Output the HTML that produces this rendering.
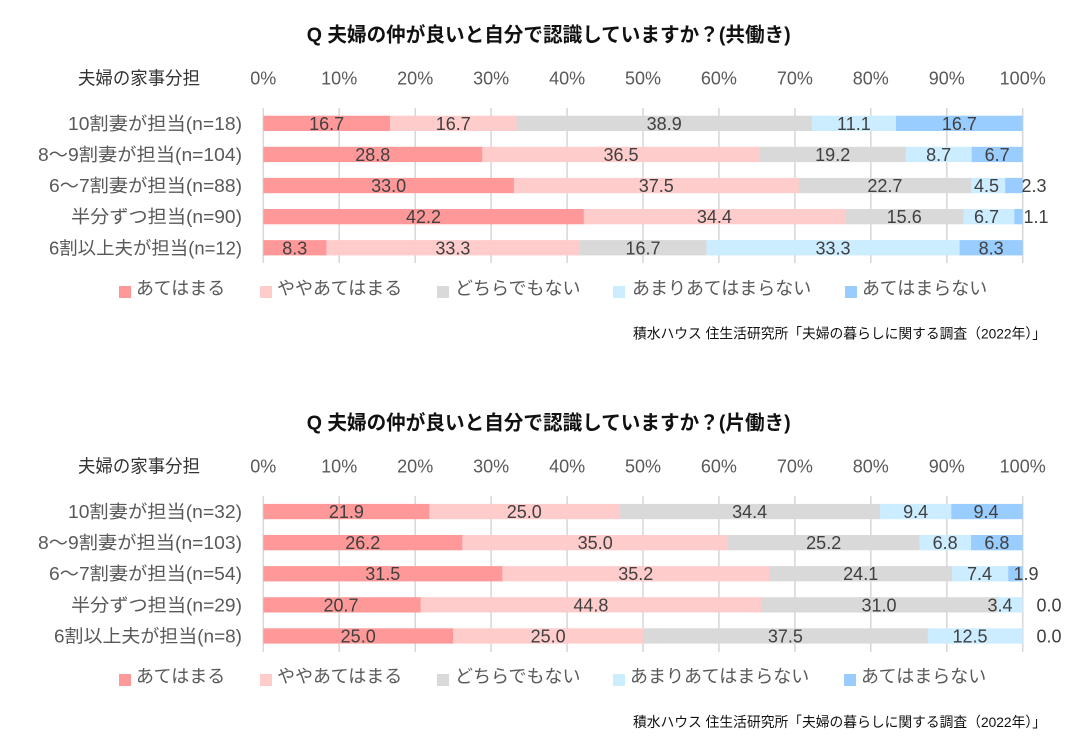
<!DOCTYPE html>
<html><head><meta charset="utf-8"><style>
html,body{margin:0;padding:0;background:#fff;}
svg{display:block;}
text{font-family:"Liberation Sans","Noto Sans CJK JP",sans-serif;}
.v{font-size:18px;fill:#404040;text-anchor:middle;}
.t{font-size:18px;fill:#595959;text-anchor:middle;}
.r{font-size:18px;fill:#595959;text-anchor:end;}
.l{font-size:18px;fill:#595959;}
.ttl{font-size:20px;font-weight:bold;fill:#111;}
.cat{font-size:18px;fill:#333;}
.src{font-size:14px;fill:#111;text-anchor:end;}
.c1{fill:#FF9999}.c2{fill:#FFCCCC}.c3{fill:#D9D9D9}.c4{fill:#CCECFF}.c5{fill:#99CCFF}
.g{stroke:#D9D9D9;stroke-width:1.6;}
</style></head><body>
<svg width="1076" height="746" viewBox="0 0 1076 746" xmlns="http://www.w3.org/2000/svg">

<!-- ===== TOP CHART ===== -->
<text class="ttl" x="306.7" y="41.5" textLength="484" lengthAdjust="spacingAndGlyphs">Q 夫婦の仲が良いと自分で認識していますか？(共働き)</text>
<text class="cat" x="78" y="84.5" textLength="122" lengthAdjust="spacingAndGlyphs">夫婦の家事分担</text>
<g class="t">
<text x="263.3" y="84.5">0%</text><text x="339.2" y="84.5">10%</text><text x="415.2" y="84.5">20%</text><text x="491.1" y="84.5">30%</text><text x="567.1" y="84.5">40%</text><text x="643.0" y="84.5">50%</text><text x="718.9" y="84.5">60%</text><text x="794.9" y="84.5">70%</text><text x="870.8" y="84.5">80%</text><text x="946.8" y="84.5">90%</text><text x="1022.7" y="84.5">100%</text>
</g>
<g class="g">
<line x1="263.3" y1="108" x2="263.3" y2="263"/><line x1="339.2" y1="108" x2="339.2" y2="263"/><line x1="415.2" y1="108" x2="415.2" y2="263"/><line x1="491.1" y1="108" x2="491.1" y2="263"/><line x1="567.1" y1="108" x2="567.1" y2="263"/><line x1="643.0" y1="108" x2="643.0" y2="263"/><line x1="718.9" y1="108" x2="718.9" y2="263"/><line x1="794.9" y1="108" x2="794.9" y2="263"/><line x1="870.8" y1="108" x2="870.8" y2="263"/><line x1="946.8" y1="108" x2="946.8" y2="263"/><line x1="1022.7" y1="108" x2="1022.7" y2="263"/>
</g>
<g class="r">
<text x="242" y="129.85" textLength="174" lengthAdjust="spacingAndGlyphs">10割妻が担当(n=18)</text>
<text x="242" y="160.95" textLength="204" lengthAdjust="spacingAndGlyphs">8～9割妻が担当(n=104)</text>
<text x="242" y="192.05" textLength="193" lengthAdjust="spacingAndGlyphs">6～7割妻が担当(n=88)</text>
<text x="242" y="223.15" textLength="171" lengthAdjust="spacingAndGlyphs">半分ずつ担当(n=90)</text>
<text x="242" y="254.25" textLength="193" lengthAdjust="spacingAndGlyphs">6割以上夫が担当(n=12)</text>
</g>
<!-- row1 -->
<rect class="c1" x="263.3" y="115.7" width="127.0" height="15.3"/>
<rect class="c2" x="389.99" y="115.7" width="127.0" height="15.3"/>
<rect class="c3" x="516.69" y="115.7" width="295.4" height="15.3"/>
<rect class="c4" x="811.80" y="115.7" width="84.5" height="15.3"/>
<rect class="c5" x="896.01" y="115.7" width="126.69" height="15.3"/>
<!-- row2 -->
<rect class="c1" x="263.3" y="146.8" width="219.2" height="15.3"/>
<rect class="c2" x="482.23" y="146.8" width="277.8" height="15.3"/>
<rect class="c3" x="759.69" y="146.8" width="146.3" height="15.3"/>
<rect class="c4" x="905.64" y="146.8" width="66.4" height="15.3"/>
<rect class="c5" x="971.77" y="146.8" width="50.93" height="15.3"/>
<!-- row3 -->
<rect class="c1" x="263.3" y="177.9" width="250.9" height="15.3"/>
<rect class="c2" x="513.9" y="177.9" width="285.1" height="15.3"/>
<rect class="c3" x="798.68" y="177.9" width="172.7" height="15.3"/>
<rect class="c4" x="971.06" y="177.9" width="34.5" height="15.3"/>
<rect class="c5" x="1005.23" y="177.9" width="17.47" height="15.3"/>
<!-- row4 -->
<rect class="c1" x="263.3" y="209.0" width="320.8" height="15.3"/>
<rect class="c2" x="583.77" y="209.0" width="261.5" height="15.3"/>
<rect class="c3" x="845.0" y="209.0" width="118.8" height="15.3"/>
<rect class="c4" x="963.47" y="209.0" width="51.2" height="15.3"/>
<rect class="c5" x="1014.35" y="209.0" width="8.35" height="15.3"/>
<!-- row5 -->
<rect class="c1" x="263.3" y="240.1" width="63.4" height="15.3"/>
<rect class="c2" x="326.39" y="240.1" width="253.4" height="15.3"/>
<rect class="c3" x="579.52" y="240.1" width="127.2" height="15.3"/>
<rect class="c4" x="706.46" y="240.1" width="253.4" height="15.3"/>
<rect class="c5" x="959.6" y="240.1" width="63.1" height="15.3"/>

<g class="v">
<text x="326.6" y="129.85">16.7</text><text x="453.3" y="129.85">16.7</text><text x="664.2" y="129.85">38.9</text><text x="853.9" y="129.85">11.1</text><text x="959.4" y="129.85">16.7</text>
<text x="372.8" y="160.95">28.8</text><text x="621.0" y="160.95">36.5</text><text x="832.7" y="160.95">19.2</text><text x="938.7" y="160.95">8.7</text><text x="997.2" y="160.95">6.7</text>
<text x="388.6" y="192.05">33.0</text><text x="656.3" y="192.05">37.5</text><text x="884.9" y="192.05">22.7</text><text x="986.5" y="192.05">4.5</text><text x="1034" y="192.05">2.3</text>
<text x="423.5" y="223.15">42.2</text><text x="714.4" y="223.15">34.4</text><text x="904.2" y="223.15">15.6</text><text x="986.5" y="223.15">6.7</text><text x="1036" y="223.15">1.1</text>
<text x="294.8" y="254.25">8.3</text><text x="452.9" y="254.25">33.3</text><text x="643.0" y="254.25">16.7</text><text x="833.0" y="254.25">33.3</text><text x="991.2" y="254.25">8.3</text>
</g>

<!-- legend top -->
<rect class="c1" x="119" y="286" width="12" height="12"/>
<text class="l" x="136" y="294.5">あてはまる</text>
<rect class="c2" x="260" y="286" width="12" height="12"/>
<text class="l" x="277" y="294.5">ややあてはまる</text>
<rect class="c3" x="437" y="286" width="12" height="12"/>
<text class="l" x="455" y="294.5">どちらでもない</text>
<rect class="c4" x="613" y="286" width="12" height="12"/>
<text class="l" x="632" y="294.5">あまりあてはまらない</text>
<rect class="c5" x="845" y="286" width="12" height="12"/>
<text class="l" x="862" y="294.5">あてはまらない</text>

<text class="src" x="1046" y="338.3" textLength="413" lengthAdjust="spacingAndGlyphs">積水ハウス 住生活研究所「夫婦の暮らしに関する調査（2022年）」</text>

<!-- ===== BOTTOM CHART ===== -->
<text class="ttl" x="306.7" y="429.5" textLength="484" lengthAdjust="spacingAndGlyphs">Q 夫婦の仲が良いと自分で認識していますか？(片働き)</text>
<text class="cat" x="78" y="472.5" textLength="122" lengthAdjust="spacingAndGlyphs">夫婦の家事分担</text>
<g class="t">
<text x="263.3" y="472.5">0%</text><text x="339.2" y="472.5">10%</text><text x="415.2" y="472.5">20%</text><text x="491.1" y="472.5">30%</text><text x="567.1" y="472.5">40%</text><text x="643.0" y="472.5">50%</text><text x="718.9" y="472.5">60%</text><text x="794.9" y="472.5">70%</text><text x="870.8" y="472.5">80%</text><text x="946.8" y="472.5">90%</text><text x="1022.7" y="472.5">100%</text>
</g>
<g class="g">
<line x1="263.3" y1="496" x2="263.3" y2="652"/><line x1="339.2" y1="496" x2="339.2" y2="652"/><line x1="415.2" y1="496" x2="415.2" y2="652"/><line x1="491.1" y1="496" x2="491.1" y2="652"/><line x1="567.1" y1="496" x2="567.1" y2="652"/><line x1="643.0" y1="496" x2="643.0" y2="652"/><line x1="718.9" y1="496" x2="718.9" y2="652"/><line x1="794.9" y1="496" x2="794.9" y2="652"/><line x1="870.8" y1="496" x2="870.8" y2="652"/><line x1="946.8" y1="496" x2="946.8" y2="652"/><line x1="1022.7" y1="496" x2="1022.7" y2="652"/>
</g>
<g class="r">
<text x="242" y="518.0" textLength="174" lengthAdjust="spacingAndGlyphs">10割妻が担当(n=32)</text>
<text x="242" y="549.1" textLength="204" lengthAdjust="spacingAndGlyphs">8～9割妻が担当(n=103)</text>
<text x="242" y="580.2" textLength="193" lengthAdjust="spacingAndGlyphs">6～7割妻が担当(n=54)</text>
<text x="242" y="611.3" textLength="171" lengthAdjust="spacingAndGlyphs">半分ずつ担当(n=29)</text>
<text x="242" y="642.4" textLength="188" lengthAdjust="spacingAndGlyphs">6割以上夫が担当(n=8)</text>
</g>
<!-- row1 -->
<rect class="c1" x="263.3" y="503.9" width="166.4" height="15.3"/>
<rect class="c2" x="429.44" y="503.9" width="189.9" height="15.3"/>
<rect class="c3" x="619.09" y="503.9" width="261.3" height="15.3"/>
<rect class="c4" x="880.06" y="503.9" width="71.6" height="15.3"/>
<rect class="c5" x="951.40" y="503.9" width="71.3" height="15.3"/>
<!-- row2 -->
<rect class="c1" x="263.3" y="535.0" width="199.2" height="15.3"/>
<rect class="c2" x="462.26" y="535.0" width="266.1" height="15.3"/>
<rect class="c3" x="728.05" y="535.0" width="191.7" height="15.3"/>
<rect class="c4" x="919.42" y="535.0" width="51.9" height="15.3"/>
<rect class="c5" x="971.06" y="535.0" width="51.64" height="15.3"/>
<!-- row3 -->
<rect class="c1" x="263.3" y="566.1" width="239.3" height="15.3"/>
<rect class="c2" x="502.28" y="566.1" width="267.3" height="15.3"/>
<rect class="c3" x="769.33" y="566.1" width="183.1" height="15.3"/>
<rect class="c4" x="952.16" y="566.1" width="56.4" height="15.3"/>
<rect class="c5" x="1008.29" y="566.1" width="14.41" height="15.3"/>
<!-- row4 -->
<rect class="c1" x="263.3" y="597.2" width="157.6" height="15.3"/>
<rect class="c2" x="420.66" y="597.2" width="340.9" height="15.3"/>
<rect class="c3" x="761.22" y="597.2" width="235.9" height="15.3"/>
<rect class="c4" x="996.86" y="597.2" width="25.84" height="15.3"/>
<!-- row5 -->
<rect class="c1" x="263.3" y="628.3" width="190.1" height="15.3"/>
<rect class="c2" x="453.15" y="628.3" width="190.1" height="15.3"/>
<rect class="c3" x="643.0" y="628.3" width="285.1" height="15.3"/>
<rect class="c4" x="927.78" y="628.3" width="94.92" height="15.3"/>

<g class="v">
<text x="346.4" y="518.0">21.9</text><text x="524.3" y="518.0">25.0</text><text x="749.6" y="518.0">34.4</text><text x="915.7" y="518.0">9.4</text><text x="986.0" y="518.0">9.4</text>
<text x="362.8" y="549.1">26.2</text><text x="595.2" y="549.1">35.0</text><text x="823.7" y="549.1">25.2</text><text x="945.2" y="549.1">6.8</text><text x="996.9" y="549.1">6.8</text>
<text x="382.8" y="580.2">31.5</text><text x="635.8" y="580.2">35.2</text><text x="860.7" y="580.2">24.1</text><text x="979.5" y="580.2">7.4</text><text x="1026" y="580.2">1.9</text>
<text x="341.0" y="611.3">20.7</text><text x="590.9" y="611.3">44.8</text><text x="879.0" y="611.3">31.0</text><text x="1000" y="611.3">3.4</text><text x="1049" y="611.3">0.0</text>
<text x="358.2" y="642.4">25.0</text><text x="548.1" y="642.4">25.0</text><text x="785.4" y="642.4">37.5</text><text x="970" y="642.4">12.5</text><text x="1049" y="642.4">0.0</text>
</g>

<!-- legend bottom -->
<rect class="c1" x="119" y="674" width="12" height="12"/>
<text class="l" x="136" y="682.5">あてはまる</text>
<rect class="c2" x="260" y="674" width="12" height="12"/>
<text class="l" x="277" y="682.5">ややあてはまる</text>
<rect class="c3" x="437" y="674" width="12" height="12"/>
<text class="l" x="455" y="682.5">どちらでもない</text>
<rect class="c4" x="613" y="674" width="12" height="12"/>
<text class="l" x="630" y="682.5">あまりあてはまらない</text>
<rect class="c5" x="844" y="674" width="12" height="12"/>
<text class="l" x="861" y="682.5">あてはまらない</text>

<text class="src" x="1046" y="726.8" textLength="413" lengthAdjust="spacingAndGlyphs">積水ハウス 住生活研究所「夫婦の暮らしに関する調査（2022年）」</text>
</svg>
</body></html>
